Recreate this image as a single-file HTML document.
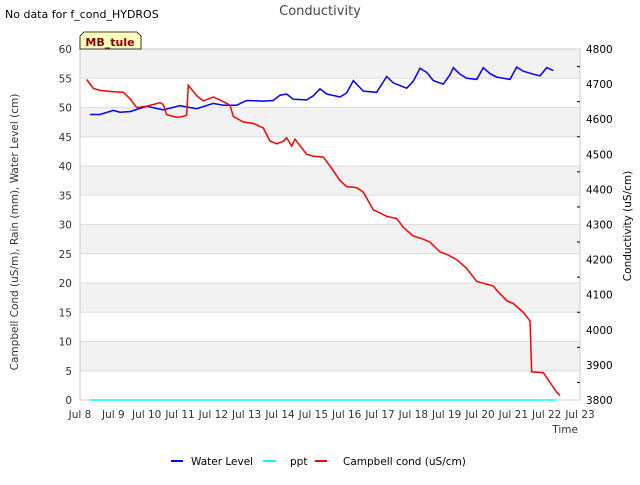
<!DOCTYPE html>
<html><head><meta charset="utf-8"><style>
body{margin:0;background:#fff;font-family:"Liberation Sans","DejaVu Sans",sans-serif;}
svg text{font-family:"DejaVu Sans","Liberation Sans",sans-serif;}
</style></head><body>
<svg id="c" width="640" height="480" viewBox="0 0 640 480" xmlns="http://www.w3.org/2000/svg">
<text x="5" y="18" font-size="11" fill="#000">No data for f_cond_HYDROS</text>
<text x="320" y="15" font-size="13" fill="#444" text-anchor="middle">Conductivity</text>
<g id="bands"></g>
<rect x="80" y="49" width="500" height="351" fill="none" stroke="#ccc"/>
<g id="axes"></g>
<g id="series"></g>
<g>
<path d="M84,32 L137,32 L141,36 L141,49 L80,49 L80,36 Z" fill="#ffffc0" stroke="#000" stroke-width="0.8"/>
<text x="110" y="46" font-size="11" font-weight="bold" fill="#8b0000" text-anchor="middle">MB_tule</text>
</g>
<text transform="translate(18,232) rotate(-90)" font-size="10.5" fill="#333" text-anchor="middle">Campbell Cond (uS/m), Rain (mm), Water Level (cm)</text>
<text transform="translate(631,226) rotate(-90)" font-size="10.5" fill="#000" text-anchor="middle">Conductivity (uS/cm)</text>
<text x="578" y="433" font-size="10.5" fill="#333" text-anchor="end">Time</text>
<g>
<g><line x1="171" y1="461" x2="183" y2="461" stroke="#00f" stroke-width="2"/><text x="191" y="465" font-size="10.5" fill="#000">Water Level</text></g>
<g><line x1="263" y1="461" x2="276" y2="461" stroke="#0ff" stroke-width="2"/><text x="290" y="465" font-size="10.5" fill="#000">ppt</text></g>
<g><line x1="315" y1="461" x2="327" y2="461" stroke="#f00" stroke-width="2"/><text x="343" y="465" font-size="10.5" fill="#000">Campbell cond (uS/cm)</text></g>
</g>
</svg>
<script>
const xTickLabels=["Jul 8","Jul 9","Jul 10","Jul 11","Jul 12","Jul 13","Jul 14","Jul 15","Jul 16","Jul 17","Jul 18","Jul 19","Jul 20","Jul 21","Jul 22","Jul 23"];
const leftTicks=[0,5,10,15,20,25,30,35,40,45,50,55,60];
const rightTicks=[3800,3900,4000,4100,4200,4300,4400,4500,4600,4700,4800];
const wlDays=[8.3,8.6,9,9.2,9.5,10,10.5,11,11.5,12,12.3,12.7,13,13.5,13.8,14,14.2,14.4,14.8,15,15.2,15.4,15.8,16,16.2,16.5,16.9,17.2,17.4,17.8,18,18.2,18.4,18.6,18.9,19.1,19.2,19.4,19.6,19.9,20.1,20.3,20.5,20.9,21.1,21.3,21.6,21.8,22,22.2];
const wlValues=[48.8,48.8,49.5,49.2,49.3,50.2,49.6,50.3,49.8,50.7,50.4,50.4,51.2,51.1,51.2,52.1,52.3,51.4,51.3,52,53.2,52.3,51.8,52.5,54.6,52.8,52.6,55.3,54.2,53.3,54.5,56.7,56,54.6,54,55.6,56.8,55.7,55,54.8,56.8,55.8,55.2,54.8,56.9,56.2,55.7,55.4,56.8,56.3];
const pptDays=[8.3,22.3];
const pptValues=[0,0];
const condDays=[8.2,8.4,8.6,9,9.3,9.5,9.7,10,10.2,10.4,10.5,10.6,10.9,11.1,11.2,11.25,11.5,11.7,12,12.2,12.5,12.6,12.9,13.2,13.5,13.7,13.9,14.1,14.2,14.35,14.45,14.8,15,15.3,15.5,15.8,16,16.3,16.5,16.8,17,17.2,17.5,17.7,18,18.3,18.5,18.8,19,19.3,19.6,19.9,20.2,20.4,20.5,20.8,21,21.3,21.5,21.55,21.9,22.1,22.3,22.4];
const condValues=[4713,4688,4682,4678,4677,4658,4633,4637,4642,4647,4642,4613,4605,4608,4612,4697,4667,4652,4663,4655,4640,4608,4592,4588,4575,4538,4530,4537,4547,4523,4543,4500,4495,4492,4467,4425,4408,4405,4392,4342,4333,4323,4317,4292,4267,4258,4250,4222,4215,4200,4175,4138,4130,4125,4113,4083,4075,4050,4025,3880,3878,3850,3822,3813];
const NS="http://www.w3.org/2000/svg";
const X0=80,X1=580,Y0=400,Y1=49;
const xs=d=>X0+(d-8)*(X1-X0)/15;
const yl=v=>Y0-v*(Y0-Y1)/60;
const yr=v=>Y0-(v-3800)*(Y0-Y1)/1000;
function mk(t,a,p){const e=document.createElementNS(NS,t);for(const k in a)e.setAttribute(k,a[k]);p.appendChild(e);return e;}
const bands=document.getElementById('bands');
for(let v=0;v<60;v+=5){
  const r=mk('rect',{x:X0,y:yl(v+5),width:X1-X0,height:yl(v)-yl(v+5),fill:(v/5)%2===1?'#f2f2f2':'#fff'},bands);
  
  
  const l=mk('line',{x1:X0,x2:X1,y1:yl(v),y2:yl(v),stroke:'#ddd','stroke-width':1},bands);
  
  
}
const axes=document.getElementById('axes');
leftTicks.forEach(v=>{
  const t=mk('text',{x:72,y:yl(v)+4,'font-size':10.5,fill:'#333','text-anchor':'end'},axes);
  t.textContent=v;
  
  
});
rightTicks.forEach(v=>{
  const t=mk('text',{x:586,y:yr(v)+4,'font-size':10.5,fill:'#000'},axes);
  t.textContent=v;
  
  
  if(v<4800){const m=mk('line',{x1:X1-3,x2:X1,y1:yr(v+50),y2:yr(v+50),stroke:'#000'},axes);
  
  }
});
xTickLabels.forEach((s,i)=>{
  const t=mk('text',{x:xs(8+i),y:418,'font-size':10.5,fill:'#333','text-anchor':'middle'},axes);
  t.textContent=s;
  
  
});
const ser=document.getElementById('series');
function line(days,vals,yf,col,name){
  const p=mk('polyline',{points:days.map((d,i)=>xs(d).toFixed(1)+','+yf(vals[i]).toFixed(1)).join(' '),fill:'none',stroke:col,'stroke-width':1.5},ser);
  
  
}
line(pptDays,pptValues,yl,'#0ff','ppt-line');
line(wlDays,wlValues,yl,'#00f','water-level-line');
line(condDays,condValues,yr,'#f00','campbell-cond-line');
</script>
</body></html>
